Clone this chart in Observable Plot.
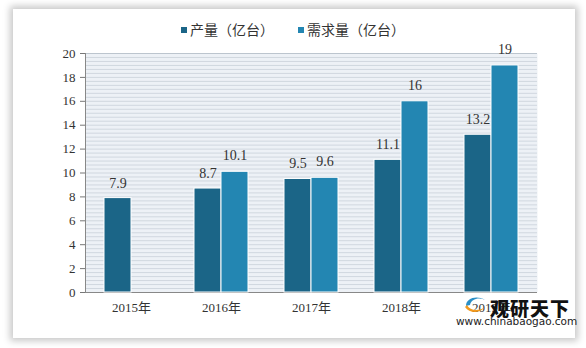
<!DOCTYPE html>
<html><head><meta charset="utf-8">
<script src="https://cdn.jsdelivr.net/npm/d3@7"></script>
<script src="https://cdn.jsdelivr.net/npm/@observablehq/plot@0.6"></script>
<style>
html,body{margin:0;padding:0;width:586px;height:348px;overflow:hidden;background:#fff;}
#card{position:absolute;left:13px;top:9px;width:562px;height:329px;background:#fff;box-shadow:0 0 7px 3px rgba(0,0,0,0.22);}
.layer{position:absolute;left:0;top:0;}
#legend{position:absolute;top:19px;left:0;width:586px;text-align:center;font-family:"Noto Sans CJK SC",sans-serif;font-size:14px;color:#333;line-height:20px;}
#legend span.sw{display:inline-block;width:6px;height:6px;margin-right:3px;vertical-align:middle;position:relative;top:-1px;}
#legend span.item{margin:0 12px;}
#wm{position:absolute;left:490px;top:294px;font-family:"Noto Sans CJK SC",sans-serif;font-weight:900;font-size:19px;color:#111;letter-spacing:1px;}
#wm2{position:absolute;left:456px;top:315px;font-family:"DejaVu Sans",sans-serif;font-size:10.5px;color:#222;}
#logo{position:absolute;left:463px;top:294px;width:26px;height:20px;}
</style></head>
<body>
<div id="card"></div>
<div id="bg" class="layer"></div>
<div id="fg" class="layer"></div>
<div id="legend"></div>
<svg id="logo" viewBox="0 0 26 20"><path d="M3 12 C3 4,14 1,22 6 C16 3,8 5,7 11 Z" fill="#2a8fc7"/><path d="M2 13 C6 19,16 20,21 14 C15 17,7 17,4 11 Z" fill="#f39a1e"/></svg>
<div id="wm">观研天下</div>
<div id="wm2">www.chinabaogao.com</div>
<script>
const years = ["2015年","2016年","2017年","2018年","2019年"];
const production = [7.9, 8.7, 9.5, 11.1, 13.2];
const demand = [null, 10.1, 9.6, 16, 19];
const seriesNames = ["产量（亿台）","需求量（亿台）"];
const seriesColors = ["#1b6587","#2386b2"];
const yTicks = [0,2,4,6,8,10,12,14,16,18,20];
const stripeStep = 1/3;

const W = 586, H = 348;
const margins = {marginLeft:85, marginRight:49, marginTop:53, marginBottom:56};
const numFont = '"Liberation Serif","Noto Sans CJK SC",serif';

const stripes = d3.range(0, 20 + 1e-9, stripeStep);

const bg = Plot.plot({
  width:W, height:H, ...margins,
  style:{background:"transparent", fontFamily:numFont, fontSize:"13px", color:"#333"},
  x:{domain:[0,1], axis:null},
  y:{domain:[0,20], axis:null},
  marks:[
    Plot.frame({fill:"#edf1f6", stroke:null}),
    Plot.ruleY(stripes, {stroke:"#d0d7df", strokeWidth:1}),
    Plot.ruleY([20], {stroke:"#bcc5ce"}),
    Plot.axisY({ticks:yTicks, tickSize:5, tickPadding:5, stroke:"#777", fontSize:13}),
    Plot.ruleX([0], {stroke:"#888"}),
    Plot.ruleY([0], {stroke:"#888"})
  ]
});
document.getElementById("bg").append(bg);

const prodRows = years.map((y,i)=>({year:y, s:seriesNames[0], v:production[i]}));
const demRows = years.map((y,i)=>({year:y, s:seriesNames[1], v:demand[i]})).filter(d=>d.v!=null);
const fmt = v => String(v);

const fg = Plot.plot({
  width:W, height:H, ...margins,
  style:{background:"transparent", fontFamily:numFont, fontSize:"13px", color:"#333"},
  fx:{domain:years, paddingInner:0.4, paddingOuter:0.2, label:null, tickSize:0, tickPadding:10},
  x:{domain:seriesNames, padding:0, axis:null},
  y:{domain:[0,20], axis:null},
  color:{domain:seriesNames, range:seriesColors},
  marks:[
    Plot.barY(prodRows, {fx:"year", x:"s", y:"v", fill:"s", stroke:"#fff", strokeWidth:1, style:"filter:drop-shadow(-2px -2px 2px rgba(60,60,60,0.35))"}),
    Plot.text(prodRows, {fx:"year", x:"s", y:"v", text:d=>fmt(d.v), dy:-15, fontSize:14, fill:"#333"}),
    Plot.barY(demRows, {fx:"year", x:"s", y:"v", fill:"s", stroke:"#fff", strokeWidth:1}),
    Plot.text(demRows, {fx:"year", x:"s", y:"v", text:d=>fmt(d.v), dy:-16, fontSize:14, fill:"#333"})
  ]
});
document.getElementById("fg").append(fg);

const leg = document.getElementById("legend");
seriesNames.forEach((n,i)=>{
  const it = document.createElement("span");
  it.className = "item";
  it.innerHTML = `<span class="sw" style="background:${seriesColors[i]}"></span>${n}`;
  leg.append(it);
});
</script>
</body></html>
